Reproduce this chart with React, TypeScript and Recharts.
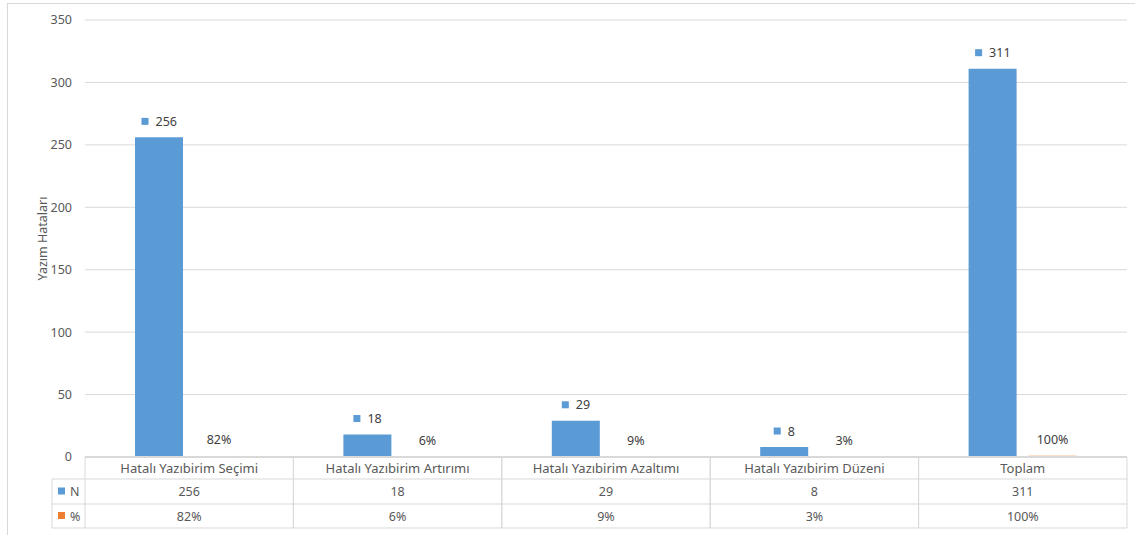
import React from 'react';
import { BarChart, Bar, XAxis, YAxis, CartesianGrid, LabelList, ReferenceLine } from 'recharts';

const categories = [
  'Hatalı Yazıbirim Seçimi',
  'Hatalı Yazıbirim Artırımı',
  'Hatalı Yazıbirim Azaltımı',
  'Hatalı Yazıbirim Düzeni',
  'Toplam',
];
const countValues = [256, 18, 29, 8, 311];
const shareValues = [0.82, 0.06, 0.09, 0.03, 1.0];
const yTicks = [0, 50, 100, 150, 200, 250, 300, 350];

const data = categories.map((name, i) => ({ name, n: countValues[i], pct: shareValues[i] }));

const W = 1128;
const H = 532;
const PLOT_LEFT = 77;
const PLOT_RIGHT = 1119;
const PLOT_BOTTOM = 453;
const ROW1 = 475;
const ROW2 = 500;
const ROW3 = 524;
const LEGEND_LEFT = 44;
const COL_W = (PLOT_RIGHT - PLOT_LEFT) / categories.length;

const BLUE = '#5b9bd5';
const ORANGE = '#ed7d31';
const GRID = '#d9d9d9';
const TEXT = '#595959';
const FONT = '"Noto Sans", sans-serif';
const FS = 12.5;

const pctText = (v: number) => `${Math.round(v * 100)}%`;

// data table under the plot, one column per category tick
const TableTick = (props: any) => {
  const { x, payload, index } = props;
  const left = x - COL_W / 2;
  const right = x + COL_W / 2;
  const i = index as number;
  return (
    <g fontFamily={FONT} fontSize={FS} fill={TEXT}>
      <line x1={left} x2={right} y1={PLOT_BOTTOM} y2={PLOT_BOTTOM} stroke={GRID} />
      <line x1={left} x2={right} y1={ROW1} y2={ROW1} stroke={GRID} />
      <line x1={left} x2={right} y1={ROW2} y2={ROW2} stroke={GRID} />
      <line x1={left} x2={right} y1={ROW3} y2={ROW3} stroke={GRID} />
      <line x1={left} x2={left} y1={PLOT_BOTTOM} y2={ROW3} stroke={GRID} />
      <line x1={right} x2={right} y1={PLOT_BOTTOM} y2={ROW3} stroke={GRID} />
      <text x={x} y={(PLOT_BOTTOM + ROW1) / 2} textAnchor="middle" dominantBaseline="central" fontSize={13}>
        {payload.value}
      </text>
      <text x={x} y={(ROW1 + ROW2) / 2} textAnchor="middle" dominantBaseline="central">
        {countValues[i]}
      </text>
      <text x={x} y={(ROW2 + ROW3) / 2} textAnchor="middle" dominantBaseline="central">
        {pctText(shareValues[i])}
      </text>
      {i === 0 && (
        <g>
          <line x1={LEGEND_LEFT} x2={left} y1={ROW1} y2={ROW1} stroke={GRID} />
          <line x1={LEGEND_LEFT} x2={left} y1={ROW2} y2={ROW2} stroke={GRID} />
          <line x1={LEGEND_LEFT} x2={left} y1={ROW3} y2={ROW3} stroke={GRID} />
          <line x1={LEGEND_LEFT} x2={LEGEND_LEFT} y1={ROW1} y2={ROW3} stroke={GRID} />
          <rect x={LEGEND_LEFT + 6} y={(ROW1 + ROW2) / 2 - 4} width={7} height={7} fill={BLUE} />
          <text x={LEGEND_LEFT + 18} y={(ROW1 + ROW2) / 2} dominantBaseline="central">N</text>
          <rect x={LEGEND_LEFT + 6} y={(ROW2 + ROW3) / 2 - 4} width={7} height={7} fill={ORANGE} />
          <text x={LEGEND_LEFT + 18} y={(ROW2 + ROW3) / 2} dominantBaseline="central">%</text>
        </g>
      )}
    </g>
  );
};

// value label with the series key square in front of it
const CountLabel = (props: any) => {
  const { x, y, width, value } = props;
  const cx = x + width / 2;
  const s = String(value);
  const total = 7 + 7 + s.length * 7;
  const start = cx - total / 2;
  const cy = y - 16;
  return (
    <g>
      <rect x={start} y={cy - 3.5} width={7} height={7} fill={BLUE} />
      <text x={start + 14} y={cy} dominantBaseline="central" fontFamily={FONT} fontSize={FS} fill="#404040">
        {s}
      </text>
    </g>
  );
};

const ShareLabel = (props: any) => {
  const { x, y, width, value } = props;
  return (
    <text x={x + width / 2} y={y - 16} textAnchor="middle" dominantBaseline="central" fontFamily={FONT} fontSize={FS} fill="#404040">
      {pctText(value)}
    </text>
  );
};

const AxisTitle = () => {
  const cy = (16 + PLOT_BOTTOM) / 2;
  return (
    <text x={34} y={cy} transform={`rotate(-90, 34, ${cy})`} textAnchor="middle" dominantBaseline="central" fontFamily={FONT} fontSize={FS} fill={TEXT}>
      Yazım Hataları
    </text>
  );
};

export default function App() {
  return (
    <div style={{ position: 'absolute', left: 7, top: 3, width: W, height: H, borderTop: `1px solid ${GRID}`, borderLeft: `1px solid ${GRID}`, background: '#fff' }}>
      <BarChart width={W} height={H} data={data} margin={{ top: 16, right: W - PLOT_RIGHT, bottom: H - ROW3 - 1, left: 0 }} barSize={48} barGap={12}>
        <CartesianGrid vertical={false} stroke={GRID} />
        <YAxis
          domain={[0, 350]}
          ticks={yTicks}
          width={PLOT_LEFT}
          axisLine={false}
          tickLine={false}
          tickSize={0}
          tickMargin={13}
          tick={{ fill: TEXT, fontSize: FS, fontFamily: FONT }}
          label={<AxisTitle />}
        />
        <XAxis
          dataKey="name"
          interval={0}
          height={ROW3 + 1 - PLOT_BOTTOM}
          axisLine={false}
          tickLine={false}
          tick={<TableTick />}
        />
        <Bar dataKey="n" fill={BLUE} isAnimationActive={false}>
          <LabelList dataKey="n" content={<CountLabel />} />
        </Bar>
        <Bar dataKey="pct" fill={ORANGE} isAnimationActive={false}>
          <LabelList dataKey="pct" content={<ShareLabel />} />
        </Bar>
        {/* table top border sits over the bar bases */}
        <ReferenceLine y={0} stroke={GRID} strokeWidth={2} />
      </BarChart>
    </div>
  );
}
